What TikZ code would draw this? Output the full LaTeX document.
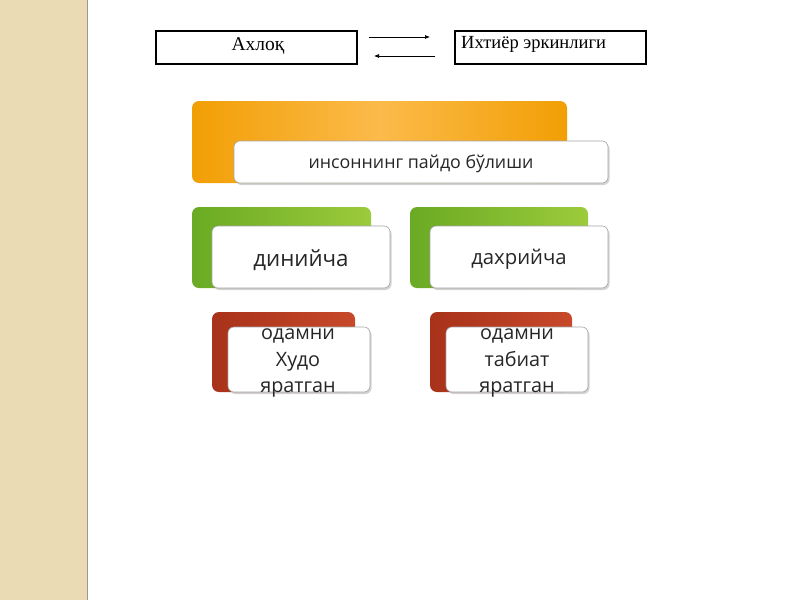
\documentclass[tikz,border=0pt]{standalone}
\usepackage{fontspec}
\setmainfont{Open Sans}
\newfontfamily\serifcyr{Liberation Serif}
\usetikzlibrary{shadows,arrows.meta}
\definecolor{beige}{HTML}{EBDBB4}
\definecolor{orA}{HTML}{F29F05}
\definecolor{orB}{HTML}{FBBA4A}
\definecolor{grA}{HTML}{6AAA24}
\definecolor{grB}{HTML}{9CCB3B}
\definecolor{rdA}{HTML}{A8321A}
\definecolor{rdB}{HTML}{C7492A}
\begin{document}
\begin{tikzpicture}[x=1pt,y=-1pt,
  backbox/.style={rounded corners=7pt},
  frontbox/.style={rounded corners=6pt, draw=black!35, line width=0.6pt, fill=white,
    drop shadow={shadow xshift=1.5pt,shadow yshift=-2pt,opacity=0.35}},
  plainbox/.style={draw=black, line width=1.6pt, fill=white},
  lbl/.style={align=center, inner sep=0pt, text=black!85}
]
\useasboundingbox (0,0) rectangle (800,600);
\fill[white] (0,0) rectangle (800,600);
\fill[beige] (0,0) rectangle (87,600);
\draw[black!40, line width=1.2pt] (87.5,0) -- (87.5,600);

% top row
\draw[plainbox] (156,31) rectangle (357,64);
\node[lbl, text=black, font=\serifcyr\fontsize{19.5}{22}\selectfont] (ax) at (258,46) {Ахлоқ};
\draw[plainbox] (455,31) rectangle (646,64);
\node[lbl, text=black, anchor=west, font=\serifcyr\fontsize{18.5}{21}\selectfont] (ix) at (461,44) {Ихтиёр эркинлиги};
\coordinate (a1) at (369,37); \coordinate (a2) at (430,37);
\coordinate (b1) at (435,56); \coordinate (b2) at (374,56);
\draw[-{Latex[length=5pt,width=4pt]}, line width=0.7pt] (a1) -- (a2);
\draw[-{Latex[length=5pt,width=4pt]}, line width=0.7pt] (b1) -- (b2);

% orange
\shade[backbox, left color=orA, right color=orA, middle color=orB] (192,101) rectangle (567,183);
\draw[frontbox] (234,141) rectangle (608,183);
\node[lbl, font=\fontsize{17.8}{20}\selectfont] (ins) at (421,164) {инсоннинг пайдо бўлиши};

% green
\shade[backbox, left color=grA, right color=grB] (192,207) rectangle (371,288);
\draw[frontbox] (212,226) rectangle (390,288);
\node[lbl, font=\fontsize{22.3}{26}\selectfont] (din) at (301,260) {динийча};
\shade[backbox, left color=grA, right color=grB] (410,207) rectangle (588,288);
\draw[frontbox] (430,226) rectangle (608,288);
\node[lbl, font=\fontsize{20.3}{24}\selectfont] (dax) at (519,259) {дахрийча};

% red
\shade[backbox, left color=rdA, right color=rdB] (212,312) rectangle (355,392);
\draw[frontbox] (228,327) rectangle (370,392);
\node[lbl, font=\fontsize{19.8}{26.5}\selectfont] (xudo) at (298,363) {одамни\\Худо\\яратган};
\shade[backbox, left color=rdA, right color=rdB] (430,312) rectangle (572,392);
\draw[frontbox] (446,327) rectangle (588,392);
\node[lbl, font=\fontsize{19.8}{26.5}\selectfont] (tab) at (517,363) {одамни\\табиат\\яратган};
\end{tikzpicture}
\end{document}
